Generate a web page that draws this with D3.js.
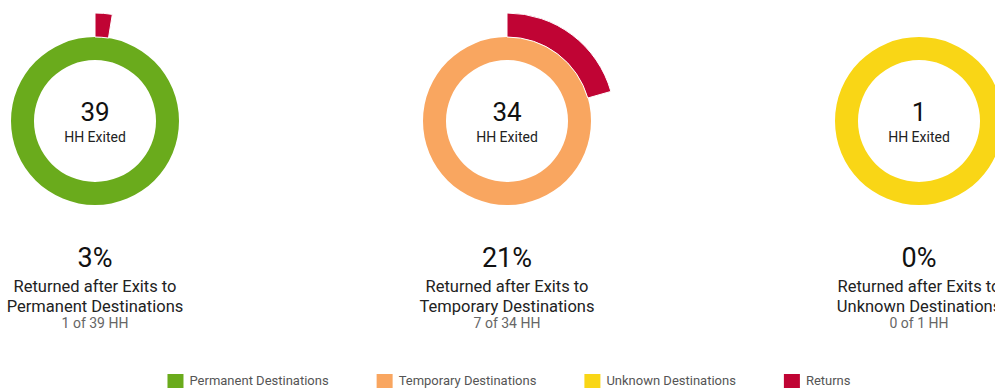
<!DOCTYPE html>
<html>
<head>
<meta charset="utf-8">
<script src="https://cdn.jsdelivr.net/npm/d3@7"></script>
<style>
  html, body { margin: 0; padding: 0; background: #fff; overflow: hidden; }
  svg { display: block; font-family: Roboto, "Noto Sans", sans-serif; }
</style>
</head>
<body>
<svg id="chart" width="995" height="388"></svg>
<script>
// ---- data ----
const categories = ["Permanent", "Temporary", "Unknown"];
const exited = [39, 34, 1];
const returned = [1, 7, 0];
const percentLabels = ["3%", "21%", "0%"];
const titleLine1 = ["Returned after Exits to", "Returned after Exits to", "Returned after Exits to"];
const titleLine2 = ["Permanent Destinations", "Temporary Destinations", "Unknown Destinations"];
const legendLabels = ["Permanent Destinations", "Temporary Destinations", "Unknown Destinations", "Returns"];
const colors = ["#6aab1c", "#f9a660", "#f9d616", "#c00434"];

// ---- layout ----
const svg = d3.select("#chart");
const cx = d3.scalePoint().domain(categories).range([95, 919]);
const cy = 121;
const rInner = 61, rOuter = 84, rReturnOuter = 108;

const ringArc = d3.arc().innerRadius(rInner).outerRadius(rOuter);
const returnArc = d3.arc().innerRadius(rOuter).outerRadius(rReturnOuter);

categories.forEach((c, i) => {
  const g = svg.append("g").attr("transform", `translate(${cx(c)},${cy})`);
  const angle = d3.scaleLinear().domain([0, exited[i]]).range([0, 2 * Math.PI]);

  g.append("path")
    .attr("d", ringArc({ startAngle: 0, endAngle: angle(exited[i]) }))
    .attr("fill", colors[i]);

  if (returned[i] > 0) {
    g.append("path")
      .attr("d", returnArc({ startAngle: 0, endAngle: angle(returned[i]) }))
      .attr("fill", colors[3])
      .attr("stroke", "#fff")
      .attr("stroke-width", 1);
  }

  g.append("text")
    .attr("text-anchor", "middle")
    .attr("y", 0)
    .attr("font-size", 26)
    .attr("fill", "#111")
    .text(exited[i]);

  g.append("text")
    .attr("text-anchor", "middle")
    .attr("y", 21)
    .attr("font-size", 14)
    .attr("fill", "#222")
    .text("HH Exited");

  const t = svg.append("g").attr("transform", `translate(${cx(c)},0)`);
  t.append("text").attr("text-anchor", "middle").attr("y", 267)
    .attr("font-size", 27).attr("fill", "#111").text(percentLabels[i]);
  t.append("text").attr("text-anchor", "middle").attr("y", 292)
    .attr("font-size", 16.5).attr("fill", "#222").text(titleLine1[i]);
  t.append("text").attr("text-anchor", "middle").attr("y", 312)
    .attr("font-size", 16.5).attr("fill", "#222").text(titleLine2[i]);
  t.append("text").attr("text-anchor", "middle").attr("y", 328)
    .attr("font-size", 14).attr("fill", "#666")
    .text(`${returned[i]} of ${exited[i]} HH`);
});

// ---- legend ----
const lg = svg.append("g");
const sw = 16, gapText = 6, gapItem = 48;
let x = 0;
legendLabels.forEach((lab, i) => {
  const item = lg.append("g").attr("transform", `translate(${x},0)`);
  item.append("rect").attr("x", 0).attr("y", 374).attr("width", sw).attr("height", 14)
    .attr("fill", colors[i]);
  const tx = item.append("text").attr("x", sw + gapText).attr("y", 385)
    .attr("font-size", 13).attr("fill", "#555").text(lab);
  x += sw + gapText + tx.node().getComputedTextLength() + gapItem;
});
const totalW = x - gapItem;
lg.attr("transform", `translate(${509 - totalW / 2},0)`);
</script>
</body>
</html>
